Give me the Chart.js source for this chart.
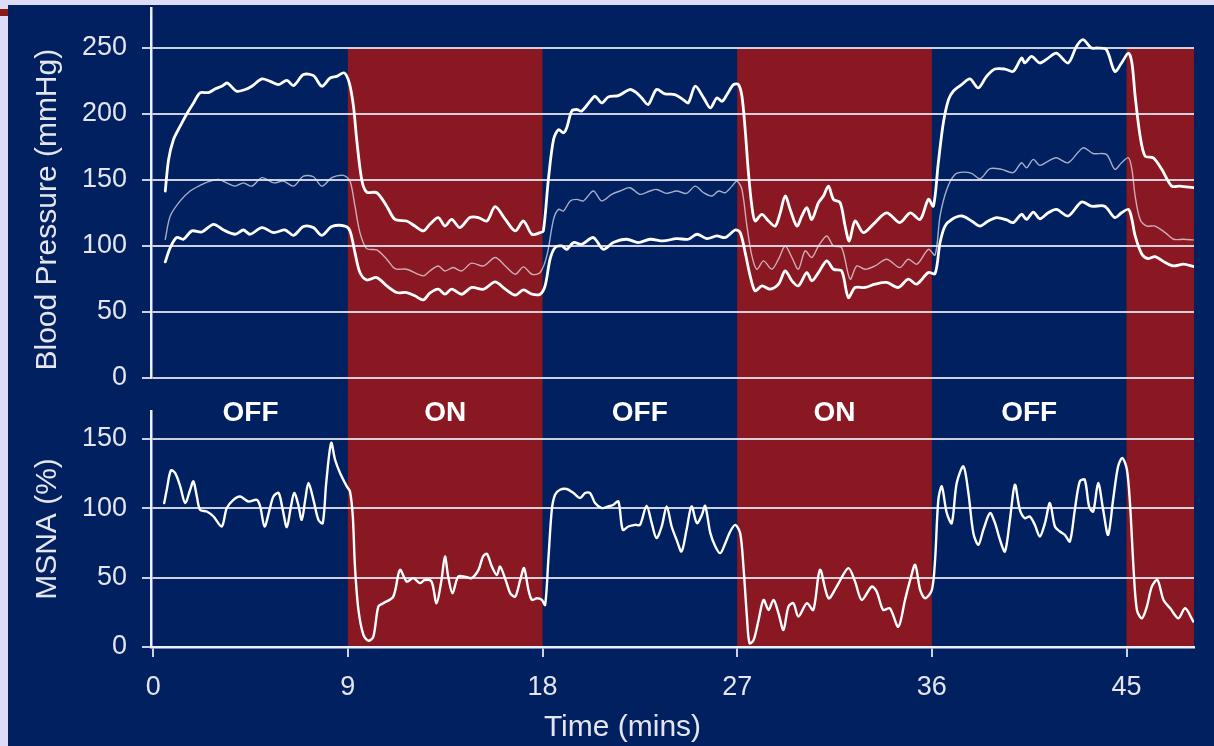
<!DOCTYPE html>
<html><head><meta charset="utf-8">
<script src="https://cdn.jsdelivr.net/npm/chart.js@4.4.1/dist/chart.umd.min.js"></script>
<style>
html,body{margin:0;padding:0;background:#dcdcf8;width:1214px;height:746px;overflow:hidden;}
#panel{position:absolute;left:8px;top:5px;width:1206px;height:741px;background:#002060;}
#mark{position:absolute;left:0;top:9px;width:8px;height:7px;background:#8b1a1a;}
canvas{position:absolute;left:0;}
#topChart{top:0;}
#botChart{top:392px;}
</style></head><body>
<div id="panel"></div><div id="mark"></div>
<canvas id="topChart" width="1214" height="392"></canvas>
<canvas id="botChart" width="1214" height="354"></canvas>
<script>
// ---------- data ----------
const xTicks = [0, 9, 18, 27, 36, 45];
const bpTicks = [0, 50, 100, 150, 200, 250];
const msnaTicks = [0, 50, 100, 150];
const phaseStart = [0, 9, 18, 27, 36, 45];
const phaseState = ['OFF', 'ON', 'OFF', 'ON', 'OFF', 'ON'];
const phaseLabel = ['OFF', 'ON', 'OFF', 'ON', 'OFF', ''];

const sbpTime = [0.56,0.71,0.94,1.25,1.63,1.86,2.17,2.56,2.86,3.17,3.43,3.86,4.25,4.56,5.03,5.41,5.80,6.18,6.49,6.95,7.41,7.80,8.18,8.49,8.83,9.07,9.26,9.41,9.64,9.87,10.34,10.80,11.18,11.72,12.10,12.49,12.79,13.18,13.49,13.80,14.18,14.64,15.04,15.43,15.81,16.28,16.74,17.12,17.51,17.89,18.04,18.27,18.51,18.74,18.97,19.12,19.35,19.58,19.81,20.20,20.43,20.74,21.04,21.51,22.04,22.35,22.58,22.89,23.27,23.66,24.12,24.50,24.74,25.06,25.45,25.76,26.06,26.30,26.53,26.83,27.06,27.22,27.37,27.52,27.68,27.83,28.14,28.45,28.76,28.99,29.22,29.45,29.76,29.99,30.22,30.45,30.76,30.99,31.22,31.45,31.76,31.99,32.18,32.45,32.83,33.29,33.91,34.52,35.00,35.46,35.84,36.07,36.30,36.53,36.77,36.99,37.38,37.76,38.15,38.53,38.92,39.38,39.76,40.15,40.30,40.61,40.99,41.38,41.76,42.30,42.69,42.99,43.38,43.69,44.07,44.46,44.77,45.09,45.25,45.40,45.63,45.86,46.24,46.63,47.09,47.47,48.09];
const sbp = [141.5,165,180.5,190.6,202,208,215.8,216,218.7,220.8,223.2,217,218.3,220.8,226.3,224.5,222,225.3,221.3,229.6,228.8,220.8,227,228.3,230.9,223.2,205.7,180.5,150.3,140.7,140.2,130,120,118.8,115,111.3,116.3,121.4,115,120,113.8,121.4,121.4,118.8,129.7,120,111.3,118.8,108.8,110,111.3,150,180.5,188,185.5,189.3,202,203.2,202,209.4,213.2,208.2,212.7,213.7,218.3,215.8,212,207,218.3,215,214.5,210.7,208.2,220.8,212,204.4,212,209.4,214.5,222,222,213.2,188,155.4,130,118.8,123.9,118.8,115,125,137.7,127.6,115,122.6,128.9,120,132.7,137.7,145.2,135.2,132.7,115,103.7,118.8,110,116.3,125,117.6,125,120,135.2,130,163,193,210.7,217,222,226.3,219.5,228.3,233.8,233.8,232,242.1,238.4,243.4,238.4,242.1,245.9,238.4,251,256,249.7,249.7,248.5,232,238.4,245.9,238.4,213.2,183,167.9,166.6,157.9,145.2,145.2,144];

const mbpTime = [0.56,0.79,1.25,1.71,2.17,2.63,3.01,3.40,3.79,4.17,4.56,5.03,5.57,6.02,6.49,6.95,7.41,7.80,8.26,8.80,9.10,9.33,9.56,9.87,10.34,10.80,11.18,11.72,12.49,12.79,13.18,13.49,13.87,14.26,14.72,15.28,15.81,16.28,16.74,17.12,17.51,17.89,18.20,18.51,18.74,18.97,19.28,19.58,19.89,20.35,20.74,21.20,21.58,22.04,22.51,22.97,23.27,23.74,24.20,24.66,25.06,25.45,25.83,26.14,26.45,26.76,26.99,27.22,27.45,27.68,27.91,28.22,28.60,28.91,29.22,29.53,29.83,30.14,30.45,30.76,31.14,31.45,31.83,32.22,32.53,32.91,33.37,33.91,34.52,34.91,35.31,35.84,36.15,36.38,36.69,37.07,37.46,37.84,38.23,38.69,39.23,39.76,40.15,40.38,40.69,40.99,41.38,41.76,42.30,42.99,43.45,44.07,44.46,44.77,45.09,45.25,45.40,45.63,45.94,46.32,46.79,47.17,47.63,48.09];
const mbp = [105,122.6,134,141.5,145.8,149,150.3,147.7,145.2,147.7,145.2,151.6,147.7,149,145.2,152.8,152.3,145.2,151.6,153.3,149,130,110,97.9,96.9,89.9,82.8,82.3,77.3,81,84.8,81,83.6,81,86.9,84.8,91.2,84.8,78.5,84.1,78.5,79.8,92.4,120,127.6,126.4,134,135.2,134,141.5,134,139,141.5,144,139,141.5,142.7,139.7,141.5,139.7,145.2,140.2,137.7,141.5,140.2,145.2,149,142.7,115,92.4,82.3,88.6,82.3,89.9,99.9,91.2,82.3,96.2,91.2,99.9,107.5,99.9,98.7,74.8,84.8,82.3,84.8,89.9,83.6,89.9,86.1,97.4,93,122.6,142.7,154,155.8,154.8,150.8,158.4,157.9,155.4,162.9,159.1,165.4,160.9,164.1,166.7,162.9,174.2,169.9,169.2,157.9,162.9,166.7,157.9,137.7,120,115,115,110,105,105,104.5];

const dbpTime = [0.56,0.79,1.09,1.40,1.79,2.25,2.79,3.25,3.79,4.17,4.48,5.03,5.57,6.10,6.49,6.95,7.41,7.80,8.26,8.87,9.10,9.33,9.56,9.87,10.34,10.80,11.26,11.72,12.10,12.49,12.79,13.18,13.49,13.80,14.26,14.72,15.28,15.81,16.28,16.74,17.12,17.51,17.89,18.12,18.35,18.58,18.89,19.12,19.43,19.81,20.35,20.81,21.27,21.89,22.43,22.97,23.58,24.20,24.74,25.14,25.60,26.06,26.45,26.91,27.14,27.37,27.60,27.83,28.14,28.52,28.91,29.22,29.53,29.83,30.22,30.45,30.76,31.14,31.45,31.83,32.14,32.45,32.91,33.37,33.91,34.45,34.91,35.30,35.84,36.15,36.38,36.61,36.92,37.38,37.84,38.23,38.61,39.00,39.46,39.76,40.15,40.38,40.69,40.99,41.38,41.76,42.30,42.92,43.38,43.99,44.46,44.77,45.09,45.25,45.40,45.71,46.01,46.32,46.79,47.17,47.63,48.09];
const dbp = [87.9,98.7,106.3,105,111.3,110.5,116.3,112,108.8,112,108.8,113.8,110,112,108,114.6,113.8,108,114.6,115,111.3,94.9,79.8,74.2,76,69.7,64.7,64.7,62.2,59.1,64.2,67.2,63.4,67.2,63.4,68.5,67.2,72.7,67.2,62.7,66.7,63.4,63.4,69.7,89.9,98.7,99.9,97.4,102.5,101.2,106.3,97.4,102.5,105,102.5,105,103.7,105.5,105,108.8,105.5,107.5,106.3,112,110,94.9,77.3,65.9,69.7,67.2,71,81,73.5,69.7,79.8,73.5,79.8,88.6,82.3,81,60.9,68.5,68.5,71,72.3,68.5,74.8,71,79.8,79,102.5,115,120,122.6,118.8,115,118.8,121.4,119.6,117.6,123.9,120,125.6,120.5,125,127.6,122.6,133.2,130,130,121.4,125,127.6,120,107.5,93.7,90.4,91.9,87.4,84.8,86.1,84.4];

const msnaTime = [0.51,0.63,0.82,1.02,1.25,1.48,1.71,1.86,2.02,2.17,2.48,2.79,3.17,3.40,3.71,4.02,4.40,4.79,4.95,5.15,5.38,5.56,5.80,5.99,6.18,6.37,6.52,6.69,6.87,7.03,7.18,7.41,7.64,7.84,8.00,8.23,8.41,8.64,8.95,9.10,9.23,9.33,9.49,9.72,9.95,10.18,10.41,10.64,11.10,11.41,11.72,12.02,12.33,12.56,12.87,13.10,13.33,13.49,13.64,13.84,14.10,14.41,14.72,15.04,15.25,15.43,15.66,15.89,16.04,16.32,16.51,16.74,16.97,17.15,17.35,17.51,17.74,17.97,18.12,18.27,18.43,18.58,18.81,19.12,19.43,19.74,19.97,20.20,20.43,20.74,21.04,21.28,21.51,21.71,21.97,22.28,22.51,22.81,23.05,23.27,23.51,23.74,23.97,24.20,24.43,24.66,24.89,25.14,25.37,25.52,25.76,25.99,26.22,26.45,26.68,26.91,27.14,27.29,27.45,27.57,27.76,27.99,28.22,28.45,28.68,28.91,29.14,29.37,29.60,29.83,30.22,30.52,30.83,31.22,31.60,32.14,32.45,32.76,33.22,33.45,33.75,34.06,34.45,34.76,35.00,35.23,35.46,35.69,36.00,36.15,36.30,36.46,36.69,36.92,37.15,37.46,37.69,37.92,38.15,38.38,38.69,38.92,39.15,39.38,39.61,39.84,40.07,40.30,40.53,40.76,40.99,41.23,41.46,41.69,41.92,42.15,42.38,42.61,42.84,43.07,43.27,43.46,43.69,43.92,44.15,44.38,44.61,44.81,45.02,45.17,45.32,45.48,45.71,45.94,46.17,46.43,46.71,47.02,47.40,47.71,48.09];
const msna = [103.7,113.3,127.2,125.3,115.7,103.7,113.3,119.3,108.4,98.8,97.6,94,86.8,100,106,108.4,104.8,106,101.2,86.8,98.8,108.4,110.9,98.8,86.4,101.2,110.9,103.7,91.6,106,118.1,106,91.6,89.2,118.1,147,134.9,125.3,115.7,112,94,57.9,26.7,8.7,4.5,7.4,29.1,31.5,36.3,55.6,47.1,49.6,46,48.3,47.1,31.5,48.3,65.2,50.7,38.7,50.7,50.7,49.6,55.6,65.2,67.1,57.9,51.9,57.9,47.1,38.7,36.3,48.3,56.8,41.1,33.9,35.1,33.9,30.3,62.8,98.8,109.7,113.3,113.8,110.9,107.3,110.9,110.9,103.7,100.1,101.2,102.5,104.8,84.4,86.8,88,88,101.7,89.2,78.4,86.8,101.2,86.8,77.2,68.8,84.4,101.2,89.2,95.2,101.7,82,72.4,67.6,74.8,83.2,88,82,57.9,21.9,2.7,5,19.5,33.9,26.7,33.9,24.3,12.3,29.1,31.5,21.9,31.5,26.7,55.6,35.1,43.5,56.8,47.1,33.9,43.5,39.9,26.7,27.9,14.6,33.9,48.3,59.2,41.1,35.1,41.1,62.8,106,115.7,96.5,89.2,118.1,130.1,110.9,82,73.6,84.4,96.5,89.2,77.2,68.8,91.6,116.9,98.8,92.8,94,88,79.6,89.2,103.7,86.8,83.2,80.8,76,98.8,119.3,120.5,101.2,97.6,118.1,98.8,80.8,106,130.1,136.1,127.7,101.2,57.9,26.7,20.7,29.1,43.5,48.3,33.9,27.9,20.7,27.9,18.3];

// ---------- style ----------
const FONT = "'Liberation Sans', Arial, Helvetica, sans-serif";
const RED = '#8a1822';
const GRID = 'rgba(222,224,236,0.92)';
const AXIS = '#eef0f8';
const TEXT = '#e4e5ee';
const X_MIN = -0.1, X_MAX = 48.12;

const pts = (t, v) => t.map((x, i) => ({x, y: v[i]}));
const line = (data, width, color) => ({data, borderColor: color, borderWidth: width, pointRadius: 0,
  tension: 0.3, borderJoinStyle: 'round', borderCapStyle: 'round', fill: false});

const bandPlugin = {
  id: 'bands',
  beforeDraw(chart, args, opts) {
    const {ctx} = chart, x = chart.scales.x, y = chart.scales.y;
    const top = opts.top ? 0 : y.getPixelForValue(opts.fromValue);
    const bottom = opts.top ? y.getPixelForValue(0) : chart.height;
    ctx.save();
    ctx.fillStyle = RED;
    phaseStart.forEach((s, i) => {
      if (phaseState[i] !== 'ON') return;
      const e = i + 1 < phaseStart.length ? phaseStart[i + 1] : X_MAX;
      const x0 = x.getPixelForValue(s), x1 = x.getPixelForValue(e);
      ctx.fillRect(x0, top, x1 - x0, bottom - top);
    });
    ctx.restore();
  },
  afterDraw(chart, args, opts) {
    if (!opts.labels) return;
    const {ctx} = chart, x = chart.scales.x;
    ctx.save();
    ctx.fillStyle = '#ffffff';
    ctx.font = 'bold 28px ' + FONT;
    ctx.textAlign = 'center';
    ctx.textBaseline = 'middle';
    phaseStart.forEach((s, i) => {
      if (!phaseLabel[i]) return;
      const e = phaseStart[i + 1];
      ctx.fillText(phaseLabel[i], x.getPixelForValue((s + e) / 2), 21);
    });
    ctx.restore();
  }
};

function yAxis(max, ticks, title) {
  return {
    type: 'linear', position: 'left', min: 0, max,
    afterBuildTicks: s => { s.ticks = ticks.map(v => ({value: v})); },
    afterFit: s => { s.width = 151; s.paddingTop = 0; s.paddingBottom = 0; },
    grid: {color: GRID, lineWidth: 2, tickLength: 9, drawTicks: true},
    border: {display: true, color: AXIS, width: 2.5},
    ticks: {color: TEXT, font: {family: FONT, size: 27}, padding: 15},
    title: {display: true, text: title, color: TEXT, font: {family: FONT, size: 30}, padding: {top: 30, bottom: 0}}
  };
}

Chart.defaults.animation = false;

new Chart(document.getElementById('topChart'), {
  type: 'line',
  data: {datasets: [
    line(pts(sbpTime, sbp), 2.8, '#ffffff'),
    line(pts(mbpTime, mbp), 1.4, 'rgba(235,235,245,0.7)'),
    line(pts(dbpTime, dbp), 2.8, '#ffffff')
  ]},
  options: {
    responsive: false, animation: false, devicePixelRatio: 1,
    layout: {padding: {left: 0, right: 20, top: 8, bottom: 14}},
    plugins: {legend: {display: false}, tooltip: {enabled: false}, bands: {top: false, fromValue: 250}},
    scales: {
      x: {type: 'linear', min: X_MIN, max: X_MAX, display: false},
      y: yAxis(280, bpTicks, 'Blood Pressure (mmHg)    ')
    }
  },
  plugins: [bandPlugin]
});

new Chart(document.getElementById('botChart'), {
  type: 'line',
  data: {datasets: [line(pts(msnaTime, msna), 2.4, '#ffffff')]},
  options: {
    responsive: false, animation: false, devicePixelRatio: 1,
    layout: {padding: {left: 0, right: 20, top: 19, bottom: 0}},
    plugins: {legend: {display: false}, tooltip: {enabled: false}, bands: {top: true, labels: true}},
    scales: {
      x: {
        type: 'linear', min: X_MIN, max: X_MAX,
        afterBuildTicks: s => { s.ticks = xTicks.map(v => ({value: v})); },
        afterFit: s => { s.height = 99; s.paddingLeft = 0; s.paddingRight = 0; },
        grid: {drawOnChartArea: false, drawTicks: true, tickLength: 10, color: GRID, lineWidth: 2},
        border: {display: true, color: AXIS, width: 2.5},
        ticks: {color: TEXT, font: {family: FONT, size: 27}, padding: 14, maxRotation: 0},
        title: {display: true, text: 'Time (mins)            ', color: TEXT, font: {family: FONT, size: 30}, padding: {top: 0, bottom: 0}}
      },
      y: yAxis(170, msnaTicks, 'MSNA (%)')
    }
  },
  plugins: [bandPlugin]
});
</script>
</body></html>
